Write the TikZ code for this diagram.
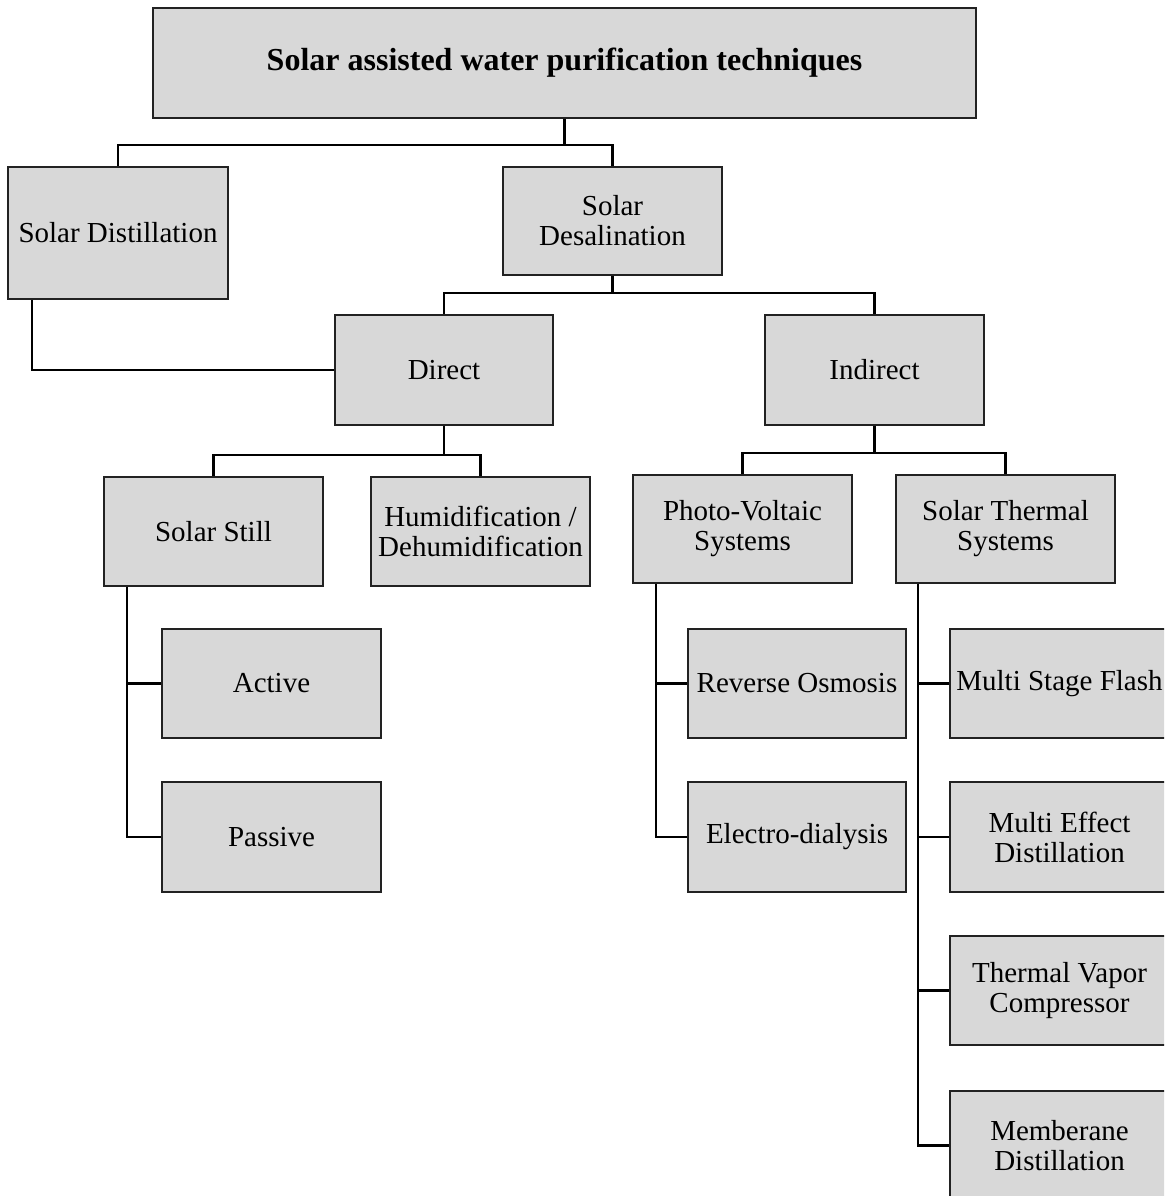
\documentclass[tikz,border=0pt]{standalone}
\usepackage{fontspec}
\setmainfont{Liberation Serif}
\usetikzlibrary{calc}
\definecolor{boxfill}{HTML}{D8D8D8}
\definecolor{boxline}{HTML}{222222}
\tikzset{
  box/.style={draw=boxline, line width=0.75pt, fill=boxfill, rectangle, align=center,
    inner sep=0pt, font=\fontsize{14.5}{15}\selectfont},
  conn/.style={draw=black, line width=1.2pt},
}
\begin{document}
\begin{tikzpicture}[x=0.5pt,y=-0.5pt]
\clip (0,0) rectangle (1164,1196);
\fill[white] (0,0) rectangle (1164,1196);
% nodes
\node[box, minimum width=411.5pt, minimum height=55pt, font=\fontsize{16}{18}\selectfont\bfseries] (top) at (564.5,63) {Solar assisted water purification techniques};
\node[box, minimum width=110pt, minimum height=66pt] (sdist) at (118,233) {Solar Distillation};
\node[box, minimum width=109.5pt, minimum height=54pt] (sdes) at (612.5,221) {Solar\\Desalination};
\node[box, minimum width=109pt, minimum height=55pt] (direct) at (444,370) {Direct};
\node[box, minimum width=109.5pt, minimum height=55pt] (indirect) at (874.5,370) {Indirect};
\node[box, minimum width=109.5pt, minimum height=54.5pt] (still) at (213.5,531.5) {Solar Still};
\node[box, minimum width=109.5pt, minimum height=54.5pt] (humid) at (480.5,531.5) {Humidification /\\Dehumidification};
\node[box, minimum width=109.5pt, minimum height=54pt] (pv) at (742.5,529) {Photo-Voltaic\\Systems};
\node[box, minimum width=109.5pt, minimum height=54pt] (st) at (1005.5,529) {Solar Thermal\\Systems};
\node[box, minimum width=109.5pt, minimum height=54.5pt] (active) at (271.5,683.5) {Active};
\node[box, minimum width=109.5pt, minimum height=55pt] (passive) at (271.5,837) {Passive};
\node[box, minimum width=109pt, minimum height=54.5pt] (ro) at (797,683.5) {Reverse Osmosis};
\node[box, minimum width=109pt, minimum height=55pt] (ed) at (797,837) {Electro-dialysis};
\node[box, minimum width=109.5pt, minimum height=54.5pt] (msf) at (1059.5,683.5) {Multi Stage Flash};
\node[box, minimum width=109.5pt, minimum height=55pt] (med) at (1059.5,837) {Multi Effect\\Distillation};
\node[box, minimum width=109.5pt, minimum height=54.5pt] (tvc) at (1059.5,990.5) {Thermal Vapor\\Compressor};
\node[box, minimum width=109.5pt, minimum height=54.5pt] (md) at (1059.5,1145.5) {Memberane\\Distillation};
% bus coordinates
\coordinate (b1) at (564.5,145);
\coordinate (b2) at (612.5,293);
\coordinate (b3) at (444,455);
\coordinate (b4) at (874.5,453);
% connectors
\draw[conn] (top.south) -- (b1) -| (sdist.north);
\draw[conn] (b1) -| (sdes.north);
\draw[conn] (sdes.south) -- (b2) -| (direct.north);
\draw[conn] (b2) -| (indirect.north);
\draw[conn] ([xshift=12.5pt]sdist.south west) |- (direct.west);
\draw[conn] (direct.south) -- (b3) -| (still.north);
\draw[conn] (b3) -| (humid.north);
\draw[conn] (indirect.south) -- (b4) -| (pv.north);
\draw[conn] (b4) -| (st.north);
\draw[conn] ([xshift=12pt]still.south west) |- (active.west);
\draw[conn] ([xshift=12pt]still.south west) |- (passive.west);
\draw[conn] ([xshift=12pt]pv.south west) |- (ro.west);
\draw[conn] ([xshift=12pt]pv.south west) |- (ed.west);
\draw[conn] ([xshift=11.5pt]st.south west) |- (msf.west);
\draw[conn] ([xshift=11.5pt]st.south west) |- (med.west);
\draw[conn] ([xshift=11.5pt]st.south west) |- (tvc.west);
\draw[conn] ([xshift=11.5pt]st.south west) |- (md.west);
\end{tikzpicture}
\end{document}
